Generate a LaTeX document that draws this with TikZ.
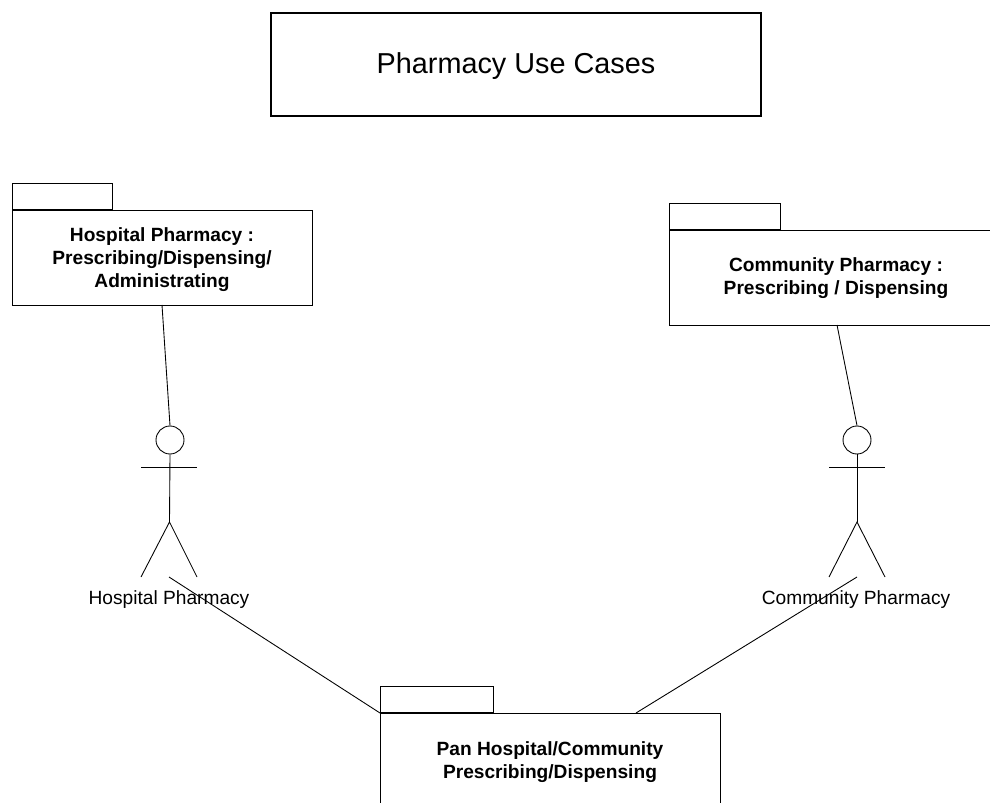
\documentclass[tikz,border=0pt]{standalone}
\usepackage{fontspec}
\setmainfont{Liberation Sans}
\tikzset{pkgbody/.style={draw,line width=.65pt,anchor=north west,inner sep=0pt}}
\tikzset{pkgtab/.style={draw,line width=.65pt,anchor=south west,inner sep=0pt}}
\tikzset{pkgtext/.style={inner sep=0pt,align=center,font=\fontsize{10.9}{13.1}\selectfont\bfseries}}
\tikzset{headcircle/.style={draw,circle,inner sep=0pt,minimum size=.56cm}}
\tikzset{actorlabel/.style={inner sep=0pt,font=\fontsize{10.9}{13.1}\selectfont}}

\begin{document}
\begin{tikzpicture}[x=.02cm,y=-.02cm,line width=.5pt]
	\useasboundingbox (0,0) rectangle (990,803);
	\node[draw,line width=.65pt,minimum width=9.8cm,minimum height=2.06cm,inner sep=0pt] (title) at (516,64.5) {};
	\node[inner sep=0pt,font=\fontsize{16.4}{20}\selectfont] (titletext) at (516,66) {Pharmacy Use Cases};
	% packages
	\node[pkgbody,minimum width=6cm,minimum height=1.9cm] (hospital) at (12,210) {};
	\node[pkgtab,minimum width=2cm,minimum height=.52cm] (hospitaltab) at (12,210) {};
	\node[pkgtext] (hospitaltext) at (162,259.5) {Hospital Pharmacy :\\Prescribing/Dispensing/\\Administrating};
	\node[pkgbody,minimum width=6.42cm,minimum height=1.9cm] (community) at (669,230) {};
	\node[pkgtab,minimum width=2.22cm,minimum height=.52cm] (communitytab) at (669,230) {};
	\node[pkgtext] (communitytext) at (836,278.5) {Community Pharmacy :\\Prescribing / Dispensing};
	\node[pkgbody,minimum width=6.8cm,minimum height=2.3cm] (pan) at (380,713) {};
	\node[pkgtab,minimum width=2.26cm,minimum height=.52cm] (pantab) at (380,713) {};
	\node[pkgtext] (pantext) at (550,762) {Pan Hospital/Community\\Prescribing/Dispensing};
	% actors
	\node[headcircle] (hospitalhead) at (170,440) {};
	\coordinate (hospitalcrotch) at (169.5,522);
	\coordinate (hospitalfoot) at (169,577);
	\draw (hospitalhead.south) -- (hospitalcrotch);
	\draw (141,467) -- (197,467);
	\draw (141,577) -- (hospitalcrotch) -- (197,577);
	\node[actorlabel] (hospitallabel) at (169,600) {Hospital Pharmacy};
	\node[headcircle] (communityhead) at (857,440) {};
	\coordinate (communitycrotch) at (857,522);
	\coordinate (communityfoot) at (857,577);
	\draw (communityhead.south) -- (communitycrotch);
	\draw (829,467) -- (885,467);
	\draw (829,577) -- (communitycrotch) -- (885,577);
	\node[actorlabel] (communitylabel) at (856,600) {Community Pharmacy};
	% connectors
	\draw (162,305) -- (hospitalhead.north);
	\draw (837,325) -- (communityhead.north);
	\draw (hospitalfoot) -- (pan.north west);
	\draw (communityfoot) -- (636,713);
\end{tikzpicture}
\end{document}
